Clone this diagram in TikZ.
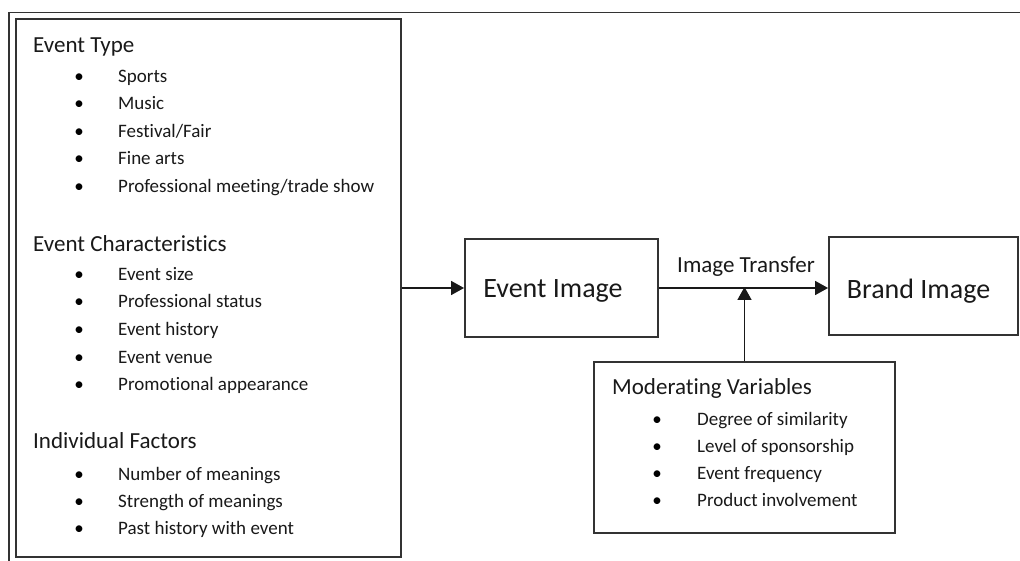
\documentclass[tikz,border=0pt]{standalone}
\usepackage{fontspec}
\setmainfont{Carlito}[Ligatures={NoCommon,NoContextual}]
\usetikzlibrary{arrows.meta}

\tikzset{
  frameline/.style={draw=black!80, line width=1.9pt},
  box/.style={frameline, rectangle, inner sep=0pt, fill=white},
  arr/.style={draw=black!90, line width=1.6pt, -{Triangle[length=13pt,width=14pt]}},
  head/.style={anchor=base west, inner sep=0pt, font=\fontsize{23}{27}\selectfont, text=black!90},
  item/.style={anchor=base west, inner sep=0pt, font=\fontsize{19}{23}\selectfont, text=black!90},
  dot/.style={anchor=base, inner sep=0pt, font=\fontsize{19}{23}\selectfont, text=black},
  big/.style={anchor=base, inner sep=0pt, font=\fontsize{28}{33}\selectfont, text=black!90},
}

\begin{document}
\begin{tikzpicture}[x=1pt, y=-1pt]
  \useasboundingbox[fill=white] (0,0) rectangle (1020,561);

  % outer frame (top and left edges)
  \coordinate (frTR) at (1020,12.5);
  \coordinate (frTL) at (9,12.5);
  \coordinate (frBL) at (9,561);
  \draw[frameline] (frTR) -- (frTL) -- (frBL);

  % antecedent factors box
  \node[box, minimum width=385pt, minimum height=538pt] (factors) at (208.5,288) {};

  \node[head] (h1) at (33,53) {Event Type};
  \foreach \t [count=\i] in {Sports, Music, Festival/Fair, Fine arts, Professional meeting/trade show} {
    \pgfmathsetmacro{\yy}{82.5+27.5*(\i-1)}
    \node[dot] (b1\i) at (79,\yy) {•};
    \node[item] (t1\i) at (118,\yy) {\t};
  }

  \node[head] (h2) at (33,251.5) {Event Characteristics};
  \foreach \t [count=\i] in {Event size, Professional status, Event history, Event venue, Promotional appearance} {
    \pgfmathsetmacro{\yy}{280.5+27.5*(\i-1)}
    \node[dot] (b2\i) at (79,\yy) {•};
    \node[item] (t2\i) at (118,\yy) {\t};
  }

  \node[head] (h3) at (33,448) {Individual Factors};
  \foreach \t [count=\i] in {Number of meanings, Strength of meanings, Past history with event} {
    \pgfmathsetmacro{\yy}{480+27*(\i-1)}
    \node[dot] (b3\i) at (79,\yy) {•};
    \node[item] (t3\i) at (118,\yy) {\t};
  }

  % event image and brand image
  \node[box, minimum width=193pt, minimum height=98pt] (ei) at (561.5,288) {};
  \node[big] (eitext) at (553,298) {Event Image};

  \node[box, minimum width=189pt, minimum height=98pt] (bi) at (923.5,286) {};
  \node[big] (bitext) at (918.5,298.5) {Brand Image};

  % moderating variables box
  \node[box, minimum width=301pt, minimum height=171pt] (mod) at (744.5,447.5) {};
  \node[head] (h4) at (612,394) {Moderating Variables};
  \foreach \t [count=\i] in {Degree of similarity, Level of sponsorship, Event frequency, Product involvement} {
    \pgfmathsetmacro{\yy}{425+27.2*(\i-1)}
    \node[dot] (b4\i) at (657,\yy) {•};
    \node[item] (t4\i) at (697,\yy) {\t};
  }

  % connectors
  \draw[arr] (factors.east |- ei.west) -- (ei.west);
  \draw[arr] (ei.east) -- (ei.east -| bi.west);
  \draw[arr] (mod.north) -- ([yshift=1pt]mod.north |- ei.east);

  \node[anchor=base, inner sep=0pt, font=\fontsize{23}{27}\selectfont, text=black!90] (transfer) at (746,273) {Image Transfer};
\end{tikzpicture}
\end{document}
